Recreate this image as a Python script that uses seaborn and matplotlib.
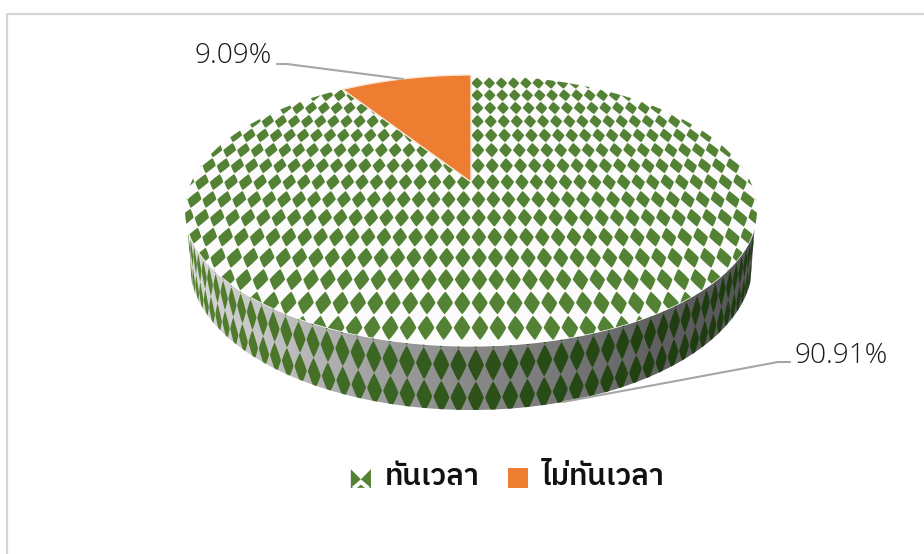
import numpy as np
import matplotlib
matplotlib.use('Agg')
import matplotlib.pyplot as plt
from matplotlib.collections import PolyCollection
from matplotlib.font_manager import FontProperties
from matplotlib.legend_handler import HandlerBase
from matplotlib.patches import Patch, Polygon
import seaborn as sns

# data
categories = ['ทันเวลา', 'ไม่ทันเวลา']
shares = [90.91, 9.09]
slice_colors = ['#548235', '#ED7D31']

# 3D disc geometry in pixels
CX, CY = 471, 182
R, H, K = 279.6, 129.5, 0.21
DROP = 50.6

sns.set_theme(style='white')
plt.rcParams['font.family'] = ['Open Sans', 'DejaVu Sans']

# slightly fattened diamond outline, unit half-width and half-height
phi = np.linspace(0, 2 * np.pi, 24, endpoint=False)
DIA_X = np.sign(np.cos(phi)) * np.abs(np.cos(phi)) ** (2 / 1.1)
DIA_Y = np.sign(np.sin(phi)) * np.abs(np.sin(phi)) ** (2 / 1.1)


def project(u, v, h=0.0):
    s = 1 / (1 - K * v)
    return CX + R * (1 - 0.015 * h) * u * s, CY + (H * v + DROP * h) * s


def wedge(start, stop):
    a = np.linspace(start, stop, 240)
    x, y = project(np.sin(a), -np.cos(a))
    return np.vstack([[CX, CY], np.column_stack([x, y])])


fig = plt.figure(figsize=(9.24, 5.54), dpi=100)
ax = fig.add_axes([0, 0, 1, 1])
ax.set_axis_off()

# chart frame, runs off the right and bottom of the crop
ax.plot([7, 7, 924], [554, 13.5, 13.5], color='#D4D4D4', lw=1.6)

# side wall
a0 = np.arccos(0.33)
t = np.linspace(-a0, a0, 300)
x_top, y_top = project(np.sin(t), np.cos(t))
x_bot, y_bot = project(np.sin(t), np.cos(t), 1.0)
side_pts = np.vstack([np.column_stack([x_top, y_top]),
                      np.column_stack([x_bot, y_bot])[::-1]])
side_clip = Polygon(side_pts, closed=True, fc='none', ec='none')
ax.add_patch(side_clip)

grey_cmap = sns.blend_palette(['#D8D8D8', '#BEBEBE', '#A0A0A0', '#888888',
                               '#777777', '#5F5F5F', '#555555'], as_cmap=True)
green_cmap = sns.blend_palette(['#55802F', '#4A7528', '#3A6523', '#2D5119',
                                '#264A15', '#1F3D10', '#1B3A0E'], as_cmap=True)
grad = ax.imshow(np.linspace(0, 1, 300)[None, :], extent=(190, 757, 420, 220),
                 aspect='auto', cmap=grey_cmap, zorder=1)
grad.set_clip_path(side_clip)

d_theta = 0.0494
polys, cols = [], []
for i in np.arange(-32, 33):
    th = (i + 0.28) * d_theta
    if abs(th) > a0 + 0.03:
        continue
    for h0 in [-0.21, 0.30, 0.81]:
        tt = th + DIA_X * 0.46 * d_theta
        hh = h0 + DIA_Y * 0.25
        px, py = project(np.sin(tt), np.cos(tt), hh)
        polys.append(np.column_stack([px, py]))
        cols.append(green_cmap((px.mean() - 190) / 567))
side_diamonds = PolyCollection(polys, facecolors=cols, edgecolors='none', zorder=2)
ax.add_collection(side_diamonds)
side_diamonds.set_clip_path(side_clip)

# top face, angles run clockwise from 12 o'clock
fractions = np.array(shares) / sum(shares)
a_split = 2 * np.pi * fractions[0]
green_pts = wedge(0, a_split)
orange_pts = wedge(a_split, 2 * np.pi)

green_face = Polygon(green_pts, closed=True, fc='#FBFBFB', ec='white', lw=1, zorder=3)
ax.add_patch(green_face)

pu, pv = 0.052, 0.13
polys = []
for j in range(15):
    v0 = -0.91 + j * pv
    for i in np.arange(-21, 21):
        u0 = (i + 0.5) * pu
        px, py = project(u0 + DIA_X * 0.46 * pu, v0 + DIA_Y * 0.47 * pv)
        polys.append(np.column_stack([px, py]))
top_diamonds = PolyCollection(polys, facecolors=slice_colors[0], edgecolors='none', zorder=4)
ax.add_collection(top_diamonds)
top_diamonds.set_clip_path(green_face)

ax.add_patch(Polygon(orange_pts, closed=True, fc=slice_colors[1], ec='#FBE5D6', lw=1, zorder=5))

# data labels and leader lines
ax.plot([277, 287, 403], [64, 64, 79], color='#A6A6A6', lw=1.5, zorder=6)
ax.plot([790, 778, 563], [362, 362, 402], color='#A6A6A6', lw=1.5, zorder=6)
ax.text(272, 56, f'{shares[1]:.2f}%', ha='right', va='center', fontsize=20.2,
        fontweight='light', color='#1A1A1A', zorder=7)
ax.text(795, 356, f'{shares[0]:.2f}%', ha='left', va='center', fontsize=20.2,
        fontweight='light', color='#1A1A1A', zorder=7)


# legend swatches sit a little below the text, the first shows a crop of the slice pattern
class Swatch(HandlerBase):
    def __init__(self, pattern):
        super().__init__()
        self.pattern = pattern

    def create_artists(self, legend, orig, xd, yd, width, height, fontsize, trans):
        shift = np.array([-xd, -yd - 2.2])
        if not self.pattern:
            pts = np.array([[0, 0], [1, 0], [1, 1], [0, 1]]) * [width, height] + shift
            return [Polygon(pts, closed=True, fc=slice_colors[1], ec='none', transform=trans)]
        arts = []
        for cx_, cy_, r in [(0, 0.42, 0.5), (1, 0.42, 0.5), (0.5, -0.04, 0.2),
                            (0, -0.04, 0.12), (1, -0.04, 0.12)]:
            pts = np.array([[cx_ - r, cy_], [cx_, cy_ - r], [cx_ + r, cy_], [cx_, cy_ + r]])
            pts = np.clip(pts, 0, 1) * [width, height] + shift
            arts.append(Polygon(pts, closed=True, fc=slice_colors[0], ec='none', transform=trans))
        return arts


handles = [Patch(facecolor=slice_colors[0], label=categories[0]),
           Patch(facecolor=slice_colors[1], label=categories[1])]
ax.legend(handles=handles, handler_map={handles[0]: Swatch(True), handles[1]: Swatch(False)},
          ncols=2, loc='center', bbox_to_anchor=(507.5 / 924, 1 - 477 / 554), frameon=False,
          prop=FontProperties(family='IBM Plex Sans Thai', weight='semibold', size=21.3),
          handlelength=0.68, handleheight=0.68, handletextpad=0.45, columnspacing=0.98,
          labelcolor='#111111')

ax.set_xlim(0, 924)
ax.set_ylim(554, 0)

fig.savefig('out.png', dpi=100)
